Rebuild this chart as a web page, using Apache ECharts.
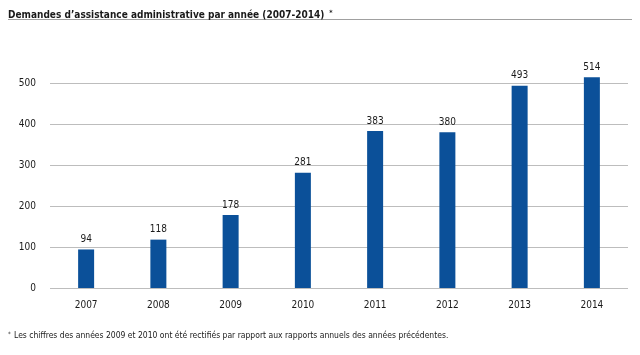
<!DOCTYPE html>
<html><head><meta charset="utf-8">
<script src="https://cdn.jsdelivr.net/npm/echarts@6/dist/echarts.min.js"></script>
<style>html,body{margin:0;padding:0;background:#fff}#c{width:640px;height:355px}</style>
</head><body><div id="c"></div>
<script>
const categories = ['2007','2008','2009','2010','2011','2012','2013','2014'];
const values = [94, 118, 178, 281, 383, 380, 493, 514];
const yTicks = [0, 100, 200, 300, 400, 500];
const titleText = 'Demandes d\u2019assistance administrative par ann\u00e9e (2007-2014)';
const footText = 'Les chiffres des ann\u00e9es 2009 et 2010 ont \u00e9t\u00e9 rectifi\u00e9s par rapport aux rapports annuels des ann\u00e9es pr\u00e9c\u00e9dentes.';
const FONT = '"Liberation Sans Narrow","DejaVu Sans Condensed","Roboto",sans-serif';
const chart = echarts.init(document.getElementById('c'), null, {renderer:'canvas'});
chart.setOption({
  animation:false,
  title:{text:'{t|'+titleText+'} {s|*}',left:8,top:6,padding:0,
    textStyle:{rich:{
      t:{fontFamily:FONT,fontSize:10,fontWeight:'bold',color:'#1a1a1a'},
      s:{fontFamily:FONT,fontSize:7,fontWeight:'bold',color:'#1a1a1a',padding:[0,0,4,0]}}}},
  graphic:[
    {type:'line',shape:{x1:8,y1:19.5,x2:632,y2:19.5},style:{stroke:'#a0a0a0',lineWidth:1}},
    {type:'text',left:8,top:330,style:{text:'{s|*} {t|'+footText+'}',
      rich:{t:{fontFamily:FONT,fontSize:8.5,fill:'#1a1a1a'},s:{fontFamily:FONT,fontSize:6,fill:'#1a1a1a',padding:[0,0,4,0]}}}}
  ],
  grid:{left:50,right:12,top:58.4,bottom:67},
  xAxis:{type:'category',data:categories,
    axisLine:{show:false},axisTick:{show:false},
    axisLabel:{margin:12,fontFamily:FONT,fontSize:10,color:'#1a1a1a'}},
  yAxis:{type:'value',min:0,max:560,interval:100,
    axisLine:{show:false},axisTick:{show:false},
    axisLabel:{showMaxLabel:false,margin:14,fontFamily:FONT,fontSize:10,color:'#1a1a1a',
      formatter:v=>yTicks.includes(v)?String(v):''},
    splitLine:{showMaxLine:false,lineStyle:{color:'#bdbdbd',width:1}}},
  series:[{type:'bar',data:values,barWidth:16,clip:false,
    itemStyle:{color:'#0b5099'},
    label:{show:true,position:'top',distance:5,fontFamily:FONT,fontSize:10,color:'#1a1a1a'}}]
});
</script></body></html>
